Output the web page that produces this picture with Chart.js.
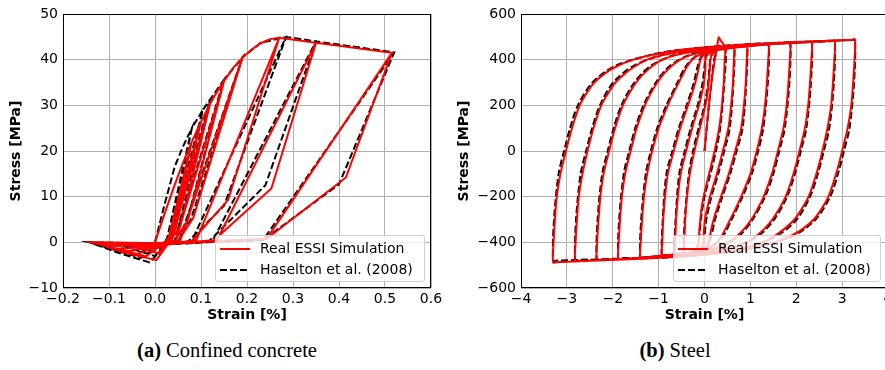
<!DOCTYPE html>
<html>
<head>
<meta charset="utf-8">
<script src="https://cdn.jsdelivr.net/npm/chart.js@4.4.0/dist/chart.umd.min.js"></script>
<style>
  body { margin: 0; width: 885px; height: 370px; overflow: hidden; background: #fff; position: relative; }
  canvas { position: absolute; top: 0; }
  #concrete { left: 0; }
  #steel { left: 445px; }
  .legend { position: absolute; background: rgba(255,255,255,0.8); border: 1px solid #d0d0d0; border-radius: 3px;
            font-family: "DejaVu Sans", sans-serif; font-size: 14px; color: #000; box-sizing: border-box; }
  .legend .row { position: absolute; left: 4px; height: 20px; line-height: 20px; white-space: nowrap; }
  .legend svg { vertical-align: middle; margin-right: 10px; }
  .caption { position: absolute; top: 339px; font-family: "Liberation Serif", serif; font-size: 20.5px; color: #000;
             transform: translateX(-50%); white-space: nowrap; }
</style>
</head>
<body>
<canvas id="concrete" width="460" height="330"></canvas>
<canvas id="steel" width="470" height="330"></canvas>

<div class="legend" style="left:215px; top:235px; width:210px; height:47px;">
  <div class="row" style="top:2px"><svg width="30" height="4"><line x1="0" y1="2" x2="30" y2="2" stroke="#ff0000" stroke-width="2"/></svg>Real ESSI Simulation</div>
  <div class="row" style="top:23px"><svg width="30" height="4"><line x1="0" y1="2" x2="30" y2="2" stroke="#000" stroke-width="2" stroke-dasharray="7 3"/></svg>Haselton et al. (2008)</div>
</div>
<div class="legend" style="left:673px; top:235px; width:208px; height:47px;">
  <div class="row" style="top:2px"><svg width="30" height="4"><line x1="0" y1="2" x2="30" y2="2" stroke="#ff0000" stroke-width="2"/></svg>Real ESSI Simulation</div>
  <div class="row" style="top:23px"><svg width="30" height="4"><line x1="0" y1="2" x2="30" y2="2" stroke="#000" stroke-width="2" stroke-dasharray="7 3"/></svg>Haselton et al. (2008)</div>
</div>

<div class="caption" style="left:227px;"><b>(a)</b> Confined concrete</div>
<div class="caption" style="left:675px;"><b>(b)</b> Steel</div>

<script>
// ---- 数据：混凝土 (a) ----
const seriesNames = ['Real ESSI Simulation', 'Haselton et al. (2008)'];

const concreteStrainTicks = [-0.2, -0.1, 0.0, 0.1, 0.2, 0.3, 0.4, 0.5, 0.6];
const concreteStrainLabels = ['\u22120.2', '\u22120.1', '0.0', '0.1', '0.2', '0.3', '0.4', '0.5', '0.6'];
const concreteStressTicks = [-10, 0, 10, 20, 30, 40, 50];
const concreteStressLabels = ['\u221210', '0', '10', '20', '30', '40', '50'];

// Real ESSI 路径 (应变 %, 应力 MPa)
const concreteEssiStrain = [
  0.000, 0.020, 0.040, 0.060, 0.080,
  0.038, 0.024, 0.015, -0.030, 0.010, 0.028, 0.080, 0.100,
  0.045, 0.028, 0.008, -0.060, 0.010, 0.032, 0.100, 0.120,
  0.055, 0.032, 0.003, -0.070, -0.130, 0.015, 0.036, 0.120, 0.135, 0.150,
  0.072, 0.042, 0.015, -0.020, -0.130, 0.015, 0.045, 0.150, 0.170, 0.190,
  0.083, 0.050, 0.015, -0.040, -0.132, 0.015, 0.055, 0.190, 0.210, 0.230, 0.250, 0.270,
  0.159, 0.080, 0.020, -0.060, -0.135, 0.020, 0.090, 0.270, 0.350,
  0.253, 0.125, 0.020, -0.080, -0.135, 0.030, 0.135, 0.350, 0.515,
  0.415, 0.243, 0.120, 0.020, -0.100, -0.140, 0.020, 0.243, 0.515
];
const concreteEssiStress = [
  0.0, 6.0, 11.8, 17.2, 22.0,
  2.5, 0.2, -1.2, -0.6, -0.3, 0.3, 22.0, 26.4,
  3.0, 0.2, -2.4, -0.5, -0.4, 0.4, 26.4, 30.4,
  3.5, 0.2, -3.9, -2.2, -0.1, -0.6, 0.4, 30.4, 33.0, 35.3,
  5.0, 0.2, -0.5, -3.1, -0.1, -0.7, 0.4, 35.3, 38.2, 40.4,
  5.3, 0.2, -0.5, -2.6, -0.1, -0.6, 0.4, 40.4, 42.2, 43.6, 44.5, 44.8,
  9.3, 0.3, -0.4, -2.0, -0.1, -0.5, 0.5, 44.8, 43.7,
  11.8, 0.2, -0.4, -1.5, 0.0, -0.3, 0.5, 43.7, 41.5,
  14.2, 0.8, 0.2, -0.4, -0.8, 0.0, -0.2, 0.8, 41.5
];

// Haselton et al. (2008) 路径
const concreteHaseltonStrain = [
  0.000, 0.020, 0.043, 0.060, 0.080,
  0.035, 0.020, 0.010, -0.040, 0.010, 0.025, 0.080, 0.104,
  0.042, 0.025, 0.000, -0.070, 0.010, 0.030, 0.104, 0.120,
  0.050, 0.030, -0.012, -0.080, -0.142, 0.010, 0.033, 0.120, 0.150,
  0.068, 0.040, 0.010, -0.030, -0.142, 0.010, 0.042, 0.150, 0.190,
  0.078, 0.048, 0.010, -0.050, -0.142, 0.010, 0.052, 0.190, 0.230, 0.285,
  0.150, 0.070, 0.010, -0.070, -0.142, 0.015, 0.080, 0.285, 0.350,
  0.240, 0.115, 0.015, -0.090, -0.142, 0.025, 0.125, 0.350, 0.520,
  0.400, 0.235, 0.110, 0.015, -0.110, -0.142, 0.020, 0.235, 0.520
];
const concreteHaseltonStress = [
  0.0, 8.0, 16.6, 20.8, 25.0,
  2.0, 0.0, -1.5, -0.8, -0.4, 0.3, 25.0, 29.0,
  2.8, 0.0, -3.0, -0.8, -0.5, 0.3, 29.0, 31.3,
  3.0, 0.0, -4.4, -2.3, 0.0, -0.8, 0.3, 31.3, 35.6,
  4.0, 0.0, -0.6, -3.4, 0.0, -0.8, 0.3, 35.6, 40.5,
  5.0, 0.0, -0.6, -2.8, 0.0, -0.7, 0.3, 40.5, 43.7, 45.0,
  8.0, 0.0, -0.6, -2.2, 0.0, -0.6, 0.3, 45.0, 44.0,
  12.5, 0.0, -0.5, -1.5, 0.0, -0.4, 0.3, 44.0, 41.6,
  12.7, 0.5, 0.0, -0.5, -0.8, 0.0, -0.3, 0.5, 41.6
];

// ---- 数据：钢筋 (b) ----
const steelStrainTicks = [-4, -3, -2, -1, 0, 1, 2, 3, 4];
const steelStrainLabels = ['\u22124', '\u22123', '\u22122', '\u22121', '0', '1', '2', '3', '4'];
const steelStressTicks = [-600, -400, -200, 0, 200, 400, 600];
const steelStressLabels = ['\u2212600', '\u2212400', '\u2212200', '0', '200', '400', '600'];

// Real ESSI：每行一段分支 (卸载 / 再加载)
const steelEssiStrain = [
  0.00, 0.15, 0.27, 0.31, 0.33, 0.45,
  0.44, 0.42, 0.38, 0.32, 0.22, 0.10, -0.02, -0.07, -0.09, -0.11, -0.12, -0.13, -0.16, -0.26, -0.38, -0.45,
  -0.44, -0.42, -0.38, -0.32, -0.22, -0.10, 0.02, 0.07, 0.09, 0.11, 0.12, 0.13, 0.16, 0.26, 0.45, 0.58, 0.65,
  0.64, 0.62, 0.58, 0.52, 0.40, 0.27, 0.12, 0.05, 0.01, -0.01, -0.02, -0.02, -0.06, -0.22, -0.40, -0.58, -0.65,
  -0.64, -0.62, -0.58, -0.52, -0.40, -0.27, -0.12, -0.05, -0.01, 0.01, 0.02, 0.02, 0.06, 0.22, 0.40, 0.86, 0.93,
  0.92, 0.90, 0.86, 0.80, 0.67, 0.53, 0.36, 0.26, 0.20, 0.15, 0.12, 0.09, 0.02, -0.20, -0.40, -0.86, -0.93,
  -0.92, -0.90, -0.86, -0.80, -0.67, -0.53, -0.36, -0.26, -0.20, -0.15, -0.12, -0.09, -0.02, 0.20, 0.40, 0.93, 1.33, 1.40,
  1.39, 1.36, 1.32, 1.25, 1.14, 1.00, 0.80, 0.66, 0.56, 0.46, 0.38, 0.27, 0.12, -0.20, -0.40, -1.00, -1.33, -1.40,
  -1.39, -1.36, -1.32, -1.25, -1.14, -1.00, -0.80, -0.66, -0.56, -0.46, -0.38, -0.27, -0.12, 0.20, 0.40, 1.00, 1.79, 1.87,
  1.86, 1.83, 1.79, 1.72, 1.60, 1.47, 1.29, 1.14, 1.02, 0.87, 0.72, 0.52, 0.29, -0.10, -0.40, -1.40, -1.80, -1.88,
  -1.87, -1.84, -1.80, -1.73, -1.61, -1.48, -1.30, -1.15, -1.03, -0.88, -0.73, -0.53, -0.30, 0.10, 0.40, 1.40, 2.26, 2.34,
  2.33, 2.30, 2.26, 2.19, 2.07, 1.94, 1.77, 1.61, 1.48, 1.31, 1.14, 0.91, 0.61, 0.10, -0.35, -1.40, -2.27, -2.35,
  -2.34, -2.31, -2.27, -2.20, -2.08, -1.95, -1.78, -1.62, -1.49, -1.32, -1.15, -0.92, -0.62, -0.10, 0.35, 1.40, 2.34, 2.76, 2.84,
  2.83, 2.80, 2.76, 2.68, 2.57, 2.44, 2.27, 2.10, 1.96, 1.75, 1.54, 1.27, 0.92, 0.37, -0.30, -1.40, -2.34, -2.74, -2.82,
  -2.81, -2.78, -2.74, -2.66, -2.55, -2.42, -2.25, -2.08, -1.94, -1.73, -1.52, -1.25, -0.90, -0.35, 0.30, 1.40, 2.34, 3.10, 3.22, 3.28,
  3.27, 3.24, 3.20, 3.12, 3.00, 2.87, 2.70, 2.53, 2.38, 2.15, 1.90, 1.53, 1.13, 0.58, -0.10, -0.80, -1.40, -2.35, -3.10, -3.22, -3.30,
  -3.29, -3.26, -3.22, -3.14, -3.02, -2.89, -2.72, -2.55, -2.40, -2.17, -1.92, -1.55, -1.15, -0.60, 0.10, 0.80, 1.40, 2.34, 3.10, 3.22, 3.28
];
const steelEssiStress = [
  0, 300, 450, 498, 490, 455,
  400, 300, 200, 100, 0, -100, -200, -260, -300, -340, -370, -400, -420, -440, -452, -455,
  -400, -300, -200, -100, 0, 100, 200, 260, 300, 340, 370, 400, 420, 440, 452, 457, 458,
  400, 300, 200, 100, 0, -100, -200, -260, -300, -340, -370, -400, -420, -440, -450, -457, -458,
  -400, -300, -200, -100, 0, 100, 200, 260, 300, 340, 370, 400, 420, 440, 450, 462, 463,
  400, 300, 200, 100, 0, -100, -200, -260, -300, -340, -370, -400, -420, -440, -448, -462, -463,
  -400, -300, -200, -100, 0, 100, 200, 260, 300, 340, 370, 400, 420, 440, 448, 461, 468, 469,
  400, 300, 200, 100, 0, -100, -200, -260, -300, -340, -370, -400, -420, -440, -446, -462, -468, -469,
  -400, -300, -200, -100, 0, 100, 200, 260, 300, 340, 370, 400, 420, 440, 446, 462, 473, 474,
  400, 300, 200, 100, 0, -100, -200, -260, -300, -340, -370, -400, -420, -440, -447, -468, -473, -474,
  -400, -300, -200, -100, 0, 100, 200, 260, 300, 340, 370, 400, 420, 440, 447, 468, 477, 478,
  400, 300, 200, 100, 0, -100, -200, -260, -300, -340, -370, -400, -420, -440, -450, -469, -477, -478,
  -400, -300, -200, -100, 0, 100, 200, 260, 300, 340, 370, 400, 420, 440, 450, 469, 478, 482, 483,
  400, 300, 200, 100, 0, -100, -200, -260, -300, -340, -370, -400, -420, -440, -453, -471, -479, -482, -483,
  -400, -300, -200, -100, 0, 100, 200, 260, 300, 340, 370, 400, 420, 440, 453, 471, 479, 486, 487, 488,
  400, 300, 200, 100, 0, -100, -200, -260, -300, -340, -370, -400, -420, -440, -455, -465, -472, -480, -486, -487, -488,
  -400, -300, -200, -100, 0, 100, 200, 260, 300, 340, 370, 400, 420, 440, 455, 465, 472, 480, 486, 487, 488
];

// Haselton et al. (2008)
const steelHaseltonStrain = [
  0.00, 0.15, 0.27, 0.45,
  0.43, 0.34, 0.25, 0.13, 0.00, -0.08, -0.11, -0.15, -0.25, -0.38, -0.45,
  -0.43, -0.34, -0.25, -0.13, 0.00, 0.08, 0.11, 0.15, 0.25, 0.45, 0.58, 0.65,
  0.63, 0.55, 0.43, 0.30, 0.15, 0.04, 0.00, -0.04, -0.20, -0.40, -0.58, -0.65,
  -0.63, -0.55, -0.43, -0.30, -0.15, -0.04, 0.00, 0.04, 0.20, 0.40, 0.85, 0.93,
  0.91, 0.83, 0.70, 0.56, 0.39, 0.23, 0.15, 0.05, -0.18, -0.40, -0.86, -0.93,
  -0.91, -0.83, -0.70, -0.56, -0.39, -0.23, -0.15, -0.05, 0.18, 0.40, 0.93, 1.32, 1.40,
  1.38, 1.28, 1.17, 1.03, 0.83, 0.59, 0.41, 0.15, -0.18, -0.40, -1.00, -1.32, -1.40,
  -1.38, -1.28, -1.17, -1.03, -0.83, -0.59, -0.41, -0.15, 0.18, 0.40, 1.00, 1.79, 1.87,
  1.85, 1.75, 1.63, 1.50, 1.32, 1.05, 0.76, 0.33, -0.07, -0.40, -1.40, -1.80, -1.88,
  -1.86, -1.76, -1.64, -1.51, -1.33, -1.06, -0.77, -0.34, 0.07, 0.40, 1.40, 2.26, 2.34,
  2.32, 2.22, 2.10, 1.97, 1.80, 1.52, 1.18, 0.66, 0.14, -0.35, -1.40, -2.27, -2.35,
  -2.33, -2.23, -2.11, -1.98, -1.81, -1.53, -1.19, -0.67, -0.14, 0.35, 1.40, 2.76, 2.84,
  2.82, 2.72, 2.60, 2.47, 2.30, 2.01, 1.59, 0.97, 0.40, -0.30, -1.40, -2.74, -2.82,
  -2.80, -2.70, -2.58, -2.45, -2.28, -1.99, -1.57, -0.95, -0.40, 0.30, 1.40, 2.34, 3.20, 3.28,
  3.26, 3.16, 3.04, 2.91, 2.74, 2.42, 1.95, 1.18, 0.63, -0.10, -0.80, -1.40, -3.22, -3.30,
  -3.28, -3.18, -3.06, -2.93, -2.76, -2.44, -1.97, -1.20, -0.65, 0.10, 0.80, 1.40, 2.34, 3.20, 3.28
];
const steelHaseltonStress = [
  0, 300, 445, 452,
  300, 100, 0, -100, -200, -300, -370, -420, -440, -450, -452,
  -300, -100, 0, 100, 200, 300, 370, 420, 440, 452, 456, 457,
  300, 100, 0, -100, -200, -300, -370, -420, -440, -451, -454, -455,
  -300, -100, 0, 100, 200, 300, 370, 420, 440, 451, 461, 462,
  300, 100, 0, -100, -200, -300, -370, -420, -440, -449, -459, -460,
  -300, -100, 0, 100, 200, 300, 370, 420, 440, 449, 461, 467, 468,
  300, 100, 0, -100, -200, -300, -370, -420, -440, -447, -462, -465, -466,
  -300, -100, 0, 100, 200, 300, 370, 420, 440, 447, 462, 472, 473,
  300, 100, 0, -100, -200, -300, -370, -420, -440, -448, -467, -470, -471,
  -300, -100, 0, 100, 200, 300, 370, 420, 440, 448, 468, 476, 477,
  300, 100, 0, -100, -200, -300, -370, -420, -440, -451, -468, -474, -475,
  -300, -100, 0, 100, 200, 300, 370, 420, 440, 451, 469, 481, 482,
  300, 100, 0, -100, -200, -300, -370, -420, -440, -454, -470, -477, -478,
  -300, -100, 0, 100, 200, 300, 370, 420, 440, 454, 471, 479, 486, 487,
  300, 100, 0, -100, -200, -300, -370, -420, -440, -456, -466, -471, -480, -481,
  -300, -100, 0, 100, 200, 300, 370, 420, 440, 456, 466, 472, 480, 486, 487
];

// ---- 工具函数 ----
function toPoints(xs, ys) {
  return xs.map((x, i) => ({ x: x, y: ys[i] }));
}

// 画出完整的外框 (matplotlib 风格)
const frameBox = {
  id: 'frameBox',
  afterDatasetsDraw(chart) {
    const a = chart.chartArea, ctx = chart.ctx;
    ctx.save();
    ctx.strokeStyle = '#000';
    ctx.lineWidth = 1;
    ctx.strokeRect(a.left + 0.5, a.top + 0.5, a.right - a.left - 1, a.bottom - a.top - 1);
    ctx.restore();
  }
};

const tickFont = { family: 'DejaVu Sans', size: 14 };
const titleFont = { family: 'DejaVu Sans', size: 14, weight: 'bold' };

function makeChart(canvasId, opts) {
  const ctx = document.getElementById(canvasId).getContext('2d');
  return new Chart(ctx, {
    type: 'scatter',
    data: {
      datasets: [
        {
          label: seriesNames[0],
          data: toPoints(opts.essiX, opts.essiY),
          showLine: true,
          borderColor: '#ff0000',
          borderWidth: 2,
          pointRadius: 0,
          tension: opts.tension
        },
        {
          label: seriesNames[1],
          data: toPoints(opts.hasX, opts.hasY),
          showLine: true,
          borderColor: '#000000',
          borderWidth: 2,
          borderDash: [7, 3],
          pointRadius: 0,
          tension: opts.tension
        }
      ]
    },
    options: {
      responsive: false,
      animation: false,
      events: [],
      layout: { padding: { left: 0, right: opts.padRight, top: 14, bottom: 0 } },
      plugins: { legend: { display: false }, tooltip: { enabled: false } },
      scales: {
        x: {
          type: 'linear',
          min: opts.xTicks[0],
          max: opts.xTicks[opts.xTicks.length - 1],
          afterBuildTicks: s => { s.ticks = opts.xTicks.map(v => ({ value: v })); },
          afterFit: s => { s.height = 42; },
          ticks: {
            autoSkip: false, maxRotation: 0, padding: 3, color: '#000', font: tickFont,
            callback: (v, i) => opts.xLabels[i]
          },
          grid: { color: '#b0b0b0', lineWidth: 1, drawTicks: false },
          border: { display: false },
          title: { display: true, text: 'Strain [%]', color: '#000', font: titleFont, padding: { top: 0, bottom: 6 } }
        },
        y: {
          type: 'linear',
          min: opts.yTicks[0],
          max: opts.yTicks[opts.yTicks.length - 1],
          afterBuildTicks: s => { s.ticks = opts.yTicks.map(v => ({ value: v })); },
          afterFit: s => { s.width = opts.yWidth; },
          ticks: {
            autoSkip: false, padding: 5, color: '#000', font: tickFont,
            callback: (v, i) => opts.yLabels[i]
          },
          grid: { color: '#b0b0b0', lineWidth: 1, drawTicks: false },
          border: { display: false },
          title: { display: true, text: 'Stress [MPa]', color: '#000', font: titleFont, padding: { top: opts.yTitlePad, bottom: 0 } }
        }
      }
    },
    plugins: [frameBox]
  });
}

makeChart('concrete', {
  essiX: concreteEssiStrain, essiY: concreteEssiStress,
  hasX: concreteHaseltonStrain, hasY: concreteHaseltonStress,
  xTicks: concreteStrainTicks, xLabels: concreteStrainLabels,
  yTicks: concreteStressTicks, yLabels: concreteStressLabels,
  yWidth: 63, yTitlePad: 8, padRight: 29, tension: 0
});

makeChart('steel', {
  essiX: steelEssiStrain, essiY: steelEssiStress,
  hasX: steelHaseltonStrain, hasY: steelHaseltonStress,
  xTicks: steelStrainTicks, xLabels: steelStrainLabels,
  yTicks: steelStressTicks, yLabels: steelStressLabels,
  yWidth: 76, yTitlePad: 11, padRight: 27, tension: 0.3
});
</script>
</body>
</html>
